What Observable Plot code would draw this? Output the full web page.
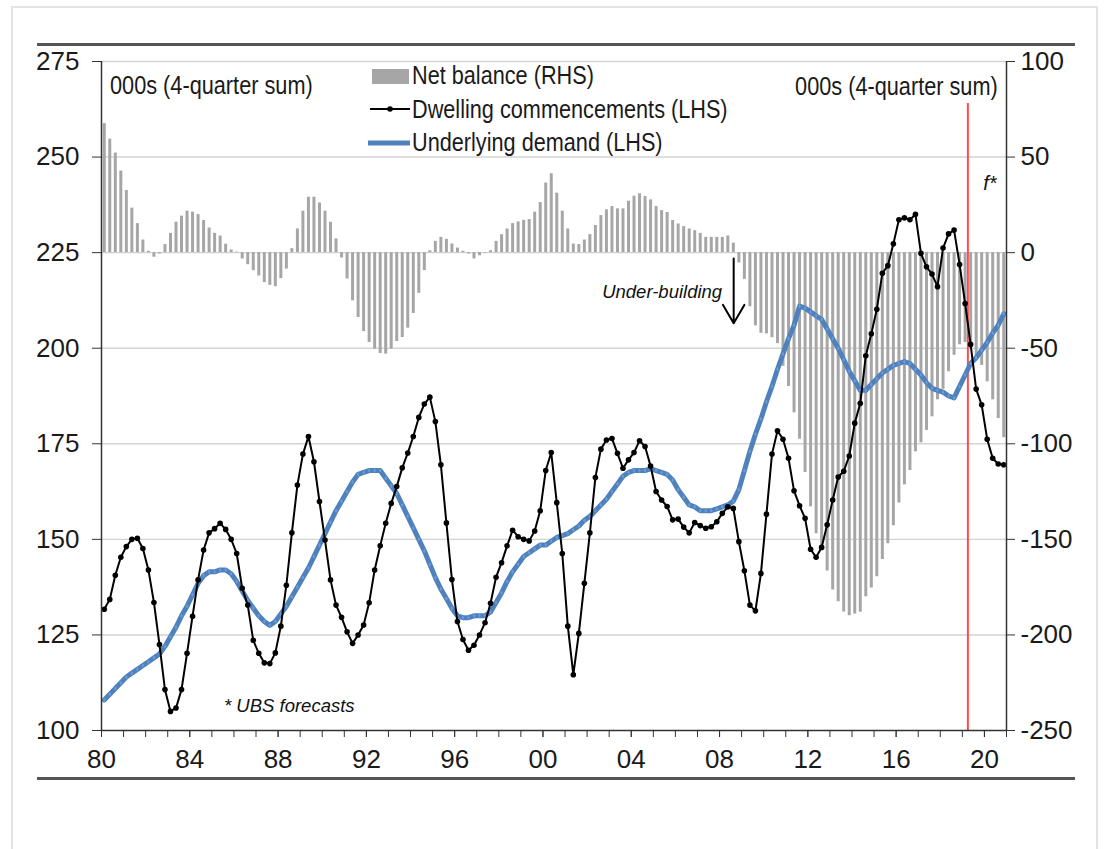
<!DOCTYPE html>
<html><head><meta charset="utf-8">
<script src="https://cdn.jsdelivr.net/npm/d3@7"></script>
<script src="https://cdn.jsdelivr.net/npm/@observablehq/plot@0.6"></script>
<style>
body{margin:0;background:#fff;}
#wrap{position:relative;width:1110px;height:849px;overflow:hidden;font-family:"Liberation Sans",Arial,sans-serif;color:#1a1a1a;}
#wrap svg{position:absolute;left:0;top:0;}
.ov{position:absolute;white-space:nowrap;line-height:1;}
.unit{font-size:26px;transform:scaleX(0.835);}
.unitL{transform-origin:0 0;}
.unitR{transform-origin:100% 0;}
.leg{font-size:25.5px;transform:scaleX(0.85);transform-origin:0 0;}
.hline{position:absolute;background:#555;height:3px;}
.frame{position:absolute;left:11px;top:6px;width:1087px;height:850px;border:2px solid #e4e4e4;box-sizing:border-box;}
</style></head><body><div id="wrap"><div class="frame"></div></div>
<script>
const startYear = 1980;
const endYear = 2021;
const forecastStart = 2019.25;
const leftTicks = [100, 125, 150, 175, 200, 225, 250, 275];
const yearLabels = [1980, 1984, 1988, 1992, 1996, 2000, 2004, 2008, 2012, 2016, 2020];

// Net balance (RHS), quarterly from 1980Q1
const netBalance = [
 67.5, 59.4, 52.1, 42.7, 32.5, 23.3, 15.2, 6.6, 0.7, -2.4, -0.7, 4.2, 10.1, 15.9, 19.1, 21.7,
 21.2, 19.9, 16.8, 12.9, 10.1, 8.7, 4.4, 1.4, 0.3, -3.3, -6.3, -9.4, -12.2, -15.7, -17.1, -17.8,
 -13.6, -8.6, 2.1, 12.4, 21.7, 29.0, 29.0, 26.0, 21.7, 15.9, 7.2, -2.8, -13.8, -25.2, -33.9, -41.3,
 -47.0, -50.5, -52.8, -53.1, -50.5, -46.5, -44.4, -39.5, -31.8, -21.3, -9.4, 1.0, 5.9, 8.0, 7.0, 4.5,
 2.4, 0.7, -0.7, -3.3, -1.6, -0.3, 1.0, 5.9, 9.4, 12.4, 15.2, 16.1, 16.9, 17.3, 21.2, 26.2,
 36.4, 41.3, 31.1, 21.7, 12.4, 4.5, 4.2, 6.6, 9.4, 14.2, 19.4, 22.4, 24.1, 22.9, 22.9, 26.9,
 29.5, 30.8, 29.4, 27.6, 24.1, 22.0, 21.0, 16.8, 15.0, 13.6, 12.4, 11.5, 10.1, 8.0, 8.0, 8.0,
 8.0, 8.7, 5.0, -5.4, -14.0, -28.3, -38.3, -42.2, -42.5, -44.5, -47.6, -59.5, -70.0, -83.8, -97.6, -115.0,
 -133.0, -147.1, -154.8, -166.6, -176.5, -182.7, -188.0, -190.0, -189.0, -188.1, -180.0, -175.5, -169.6, -160.6, -152.3, -142.9,
 -131.0, -121.5, -114.0, -104.2, -99.5, -93.0, -85.9, -77.0, -71.5, -62.3, -53.7, -48.2, -47.0, -50.0, -54.0, -59.0,
 -67.6, -77.0, -86.8, -96.8
];

// Dwelling commencements (LHS)
const commencements = [
 131.7, 134.3, 140.6, 145.3, 148.1, 150.0, 150.3, 147.6, 142.0, 133.5, 122.5, 110.7, 105.0, 105.9, 110.7, 120.2,
 129.9, 139.4, 147.2, 151.7, 152.8, 154.2, 152.6, 150.0, 146.3, 137.2, 132.8, 123.6, 120.2, 117.7, 117.5, 120.3,
 127.3, 138.0, 151.7, 164.2, 172.3, 176.9, 170.3, 159.9, 149.8, 139.4, 132.8, 129.6, 125.8, 122.8, 125.0, 127.6,
 133.4, 142.0, 148.3, 154.2, 159.4, 163.8, 168.7, 172.6, 176.9, 181.9, 185.4, 187.2, 180.8, 169.5, 154.3, 139.5,
 128.5, 123.8, 121.0, 122.3, 125.0, 128.2, 133.3, 140.1, 143.9, 148.3, 152.4, 150.7, 150.0, 149.6, 152.2, 157.5,
 168.0, 172.7, 159.6, 146.3, 127.3, 114.6, 125.4, 138.5, 151.7, 166.2, 173.6, 176.0, 176.4, 172.5, 168.6, 170.8,
 172.7, 175.8, 174.3, 169.2, 162.5, 160.3, 158.6, 155.1, 155.3, 153.2, 151.7, 154.4, 153.6, 152.9, 153.3, 154.6,
 156.8, 158.5, 158.1, 149.4, 141.8, 132.8, 131.3, 141.1, 156.6, 172.3, 178.4, 176.2, 171.2, 162.7, 158.8, 155.5,
 147.4, 145.3, 147.9, 153.8, 160.3, 166.3, 167.8, 171.8, 180.4, 185.6, 198.0, 203.8, 210.2, 219.6, 221.6, 227.3,
 233.6, 234.1, 233.6, 235.0, 224.8, 221.3, 219.4, 216.1, 226.2, 229.9, 230.9, 221.9, 211.7, 201.0, 189.3, 185.2,
 176.2, 171.2, 169.7, 169.5
];

// Underlying demand (LHS)
const demand = [
 108, 109.5, 111, 112.5, 114, 115, 116, 117, 118, 119, 120, 122, 124.5, 127, 130, 132.5,
 135.5, 138.5, 140.5, 141.5, 141.5, 142, 142, 141, 139, 136.5, 134, 132, 130, 128.5, 127.5, 128.5,
 130.5, 132.5, 135, 137.5, 140, 142.5, 145.5, 148.5, 151.5, 154.5, 157.5, 160, 162.5, 165, 167, 167.5,
 168, 168, 168, 166, 164, 162, 159, 156, 153, 150, 147, 143.5, 140, 137, 134.5, 132,
 130, 129.5, 129.5, 130, 130, 130, 131, 133.5, 136, 139, 141.5, 143.5, 145.5, 146.5, 147.5, 148.5,
 148.5, 149.5, 150.5, 151, 151.5, 152.5, 153.5, 155, 156, 157.5, 159, 160.5, 162.5, 164.5, 166.5, 167.5,
 168, 168, 168, 168.5, 168, 167.5, 167, 165.5, 163, 161, 159, 158.5, 157.5, 157.5, 157.5, 158,
 158.5, 159, 160, 163, 168, 173, 177.5, 181.5, 186, 190, 194.5, 198.5, 202.5, 206, 211, 210.5,
 209.5, 208.5, 207.5, 205, 202.5, 200, 197, 194, 191.5, 189, 189, 190.5, 192, 193.5, 194.5, 195.5,
 196, 196.5, 196, 194.5, 193, 191, 189.5, 189, 188.5, 187.5, 187, 190, 193, 196, 197.5, 199.5,
 201.5, 204, 206, 209
];

const rows = netBalance.map((v, i) => ({
  t: startYear + (i + 0.5) / 4,
  net: v,
  comm: commencements[i],
  dem: demand[i]
}));

// right axis (-250..100) maps onto left axis (100..275)
const toLeft = v => 225 + v / 2;
const toRight = v => (v - 225) * 2;

const font = '"Liberation Sans",Arial,sans-serif';
const ital = {fontStyle: "italic", fontFamily: font, fill: "#111"};

const chart = Plot.plot({
  width: 1110, height: 849,
  marginLeft: 101, marginRight: 104, marginTop: 61, marginBottom: 119,
  x: {domain: [startYear, endYear]},
  y: {domain: [leftTicks[0], leftTicks[leftTicks.length - 1]]},
  style: {fontFamily: font, fontSize: "26px", color: "#1a1a1a", background: "transparent", overflow: "visible"},
  marks: [
    Plot.gridY(leftTicks.slice(1), {stroke: "#d3d3d3", strokeOpacity: 1, strokeWidth: 1.4}),
    Plot.ruleX(rows, {x: "t", y1: () => 225, y2: d => toLeft(d.net), stroke: "#a6a6a6", strokeWidth: 3}),
    Plot.ruleX([forecastStart], {y1: leftTicks[0], y2: 264, stroke: "#ff4b4b", strokeWidth: 2}),
    Plot.line(rows, {x: "t", y: "dem", stroke: "#4f81bd", strokeWidth: 5}),
    Plot.dot(rows, {x: "t", y: "dem", r: 1.4, symbol: "diamond", fill: "#6c9cd6"}),
    Plot.line(rows, {x: "t", y: "comm", stroke: "#000", strokeWidth: 2}),
    Plot.dot(rows, {x: "t", y: "comm", r: 2.8, fill: "#000"}),
    Plot.ruleY([leftTicks[0]], {stroke: "#333", strokeWidth: 1.5}),
    Plot.ruleX([startYear, endYear], {stroke: "#333", strokeWidth: 1.5}),
    Plot.axisY({ticks: leftTicks, tickSize: 9, tickPadding: 13, stroke: "#333", fill: "#1a1a1a", label: null, tickFormat: d => d}),
    Plot.axisY({anchor: "right", ticks: leftTicks, tickSize: 8, tickPadding: 6, stroke: "#333", fill: "#1a1a1a", label: null, tickFormat: d => toRight(d)}),
    Plot.axisX({ticks: d3.range(startYear, endYear + 1), tickSize: 7, tickFormat: () => "", label: null, stroke: "#333"}),
    Plot.axisX({ticks: yearLabels, tickSize: 7, tickPadding: 12, label: null, stroke: "#333", fill: "#1a1a1a",
      tickFormat: d => String(d % 100).padStart(2, "0")}),
    Plot.text(["Under-building"], {x: () => 2005.4, y: () => 214.6, text: d => d, textAnchor: "middle", fontSize: 18.5, ...ital}),
    Plot.arrow([0], {x1: () => 2008.64, y1: () => 223.5, x2: () => 2008.64, y2: () => 206.5,
      stroke: "#000", strokeWidth: 2, headLength: 16, headAngle: 60}),
    Plot.text(["f*"], {x: () => 2020.25, y: () => 243, text: d => d, textAnchor: "middle", fontSize: 20, ...ital}),
    Plot.text(["* UBS forecasts"], {x: () => 1985.55, y: () => 106.5, text: d => d, textAnchor: "start", fontSize: 18.5, ...ital})
  ]
});

const wrap = document.getElementById("wrap");
wrap.appendChild(chart);

function add(html, cls, pos) {
  const d = document.createElement("div");
  d.className = "ov " + cls;
  Object.assign(d.style, pos);
  d.textContent = html;
  wrap.appendChild(d);
  return d;
}
// horizontal separator lines
const l1 = document.createElement("div"); l1.className = "hline"; l1.style.cssText = "left:37px;top:43px;width:1038px;"; wrap.appendChild(l1);
const l2 = document.createElement("div"); l2.className = "hline"; l2.style.cssText = "left:37px;top:777px;width:1038px;"; wrap.appendChild(l2);

add("000s (4-quarter sum)", "unit unitL", {left: "110px", top: "72px"});
add("000s (4-quarter sum)", "unit unitR", {right: "112px", top: "73px"});

// legend
const legendItems = ["Net balance (RHS)", "Dwelling commencements (LHS)", "Underlying demand (LHS)"];
const legSvg = d3.create("svg").attr("width", 45).attr("height", 90)
  .style("position", "absolute").style("left", "368px").style("top", "62px");
legSvg.append("rect").attr("x", 4).attr("y", 7).attr("width", 37).attr("height", 15).attr("fill", "#a6a6a6");
legSvg.append("line").attr("x1", 2).attr("x2", 42).attr("y1", 47).attr("y2", 47).attr("stroke", "#000").attr("stroke-width", 1.8);
legSvg.append("circle").attr("cx", 22).attr("cy", 47).attr("r", 2.8).attr("fill", "#000");
legSvg.append("line").attr("x1", 0).attr("x2", 42).attr("y1", 81).attr("y2", 81).attr("stroke", "#4f81bd").attr("stroke-width", 5);
wrap.appendChild(legSvg.node());
add(legendItems[0], "leg", {left: "412px", top: "63px"});
add(legendItems[1], "leg", {left: "412px", top: "97px"});
add(legendItems[2], "leg", {left: "412px", top: "130px"});
</script>
</body></html>
